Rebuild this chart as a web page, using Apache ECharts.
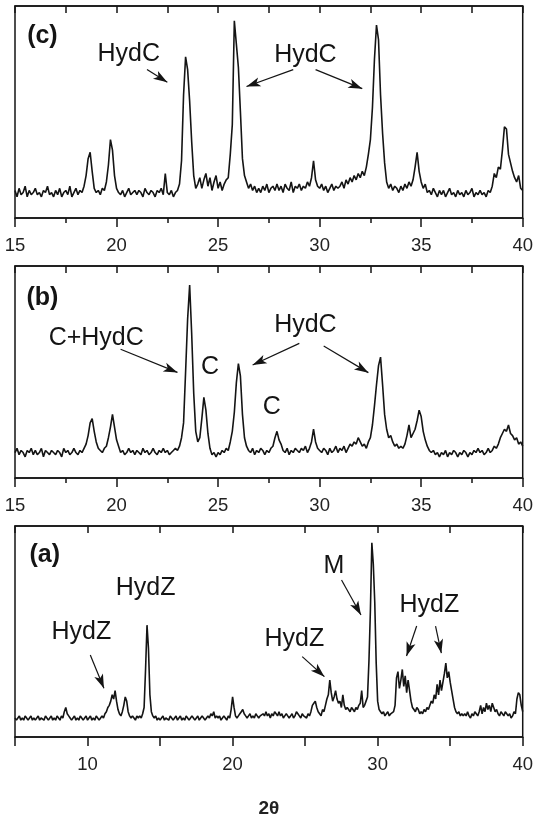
<!DOCTYPE html>
<html>
<head>
<meta charset="utf-8">
<script src="https://cdn.jsdelivr.net/npm/echarts@6/dist/echarts.min.js"></script>
<style>
html,body{margin:0;padding:0;background:#fff}
#chart{width:536px;height:819px}
</style>
</head>
<body>
<div id="chart"></div>
<script>
// ---------- DATA ----------
const scanStep = 0.1;          // 2θ step of the scans (degrees)
const startC = 15;             // first 2θ of pattern (c)
const startB = 15;             // first 2θ of pattern (b)
const startA = 5;              // first 2θ of pattern (a)

// Pattern (c): 15.0 .. 40.0
const intensityC = [
  13,10,14,11,12,15,10,13,11,12,
  14,11,12,10,13,12,15,11,12,10,
  13,11,14,10,12,13,11,15,10,12,
  14,11,13,12,15,20,28,31,22,14,
  12,13,11,14,13,17,25,37,32,20,
  14,12,11,13,10,12,14,11,12,13,
  11,13,12,10,14,12,11,13,12,10,
  13,12,14,11,21,12,11,13,10,12,
  13,16,27,58,76,70,55,36,20,14,
  16,19,14,18,21,15,19,13,17,20,
  14,17,13,16,18,19,30,44,93,82,
  71,50,28,20,17,14,16,13,15,12,
  14,12,15,13,16,12,14,15,13,16,
  13,15,12,16,14,13,17,12,15,14,
  16,13,15,14,17,15,19,27,18,15,
  14,16,13,15,12,14,16,13,15,14,
  15,17,14,18,16,19,17,20,18,21,
  19,22,20,24,30,37,52,75,91,84,
  58,40,26,17,14,16,13,15,14,12,
  15,13,16,14,17,15,18,24,31,22,
  17,14,16,12,13,11,14,12,10,13,
  11,13,10,12,14,11,12,10,13,11,
  12,10,13,11,12,14,10,12,11,13,
  11,12,10,13,12,15,21,19,24,23,
  32,43,42,30,26,22,19,17,20,14,
  13
];

// Pattern (b): 15.0 .. 40.0
const intensityB = [
  12,14,11,13,12,10,13,12,14,11,
  13,11,12,14,10,13,12,11,13,12,
  11,13,12,10,14,12,13,11,12,14,
  12,11,13,12,14,16,20,26,28,22,
  17,14,13,12,14,15,19,24,30,24,
  18,15,12,13,11,12,14,12,13,11,
  13,12,11,14,12,13,11,12,14,12,
  11,13,12,14,12,13,11,12,13,14,
  13,15,19,26,50,75,91,68,40,22,
  17,19,28,38,32,21,14,11,12,10,
  12,11,13,12,14,13,17,22,31,45,
  54,48,30,19,15,13,12,14,11,13,
  12,14,13,11,13,12,14,15,19,22,
  18,16,13,12,14,11,13,12,14,13,
  12,14,13,15,12,14,17,23,17,14,
  13,12,14,13,11,14,12,13,15,12,
  14,13,15,12,14,16,15,17,16,19,
  17,15,16,14,17,19,25,34,44,53,
  57,44,30,23,19,20,17,15,16,14,
  15,14,16,20,25,19,21,23,27,32,
  29,22,18,15,13,12,13,11,12,10,
  12,11,13,10,12,11,13,12,10,12,
  11,13,12,10,12,11,13,12,14,12,
  13,11,12,14,12,13,15,14,16,19,
  21,23,22,25,21,20,18,19,16,17,
  15
];

// Pattern (a): 5.0 .. 40.0
const intensityA = [
  9,8,9,10,8,9,8,10,9,8,
  9,10,8,9,8,9,10,8,9,9,
  8,10,9,8,9,10,8,9,8,10,
  9,8,10,9,12,14,11,10,9,8,
  9,10,8,9,8,10,9,8,9,10,
  8,9,10,8,9,8,10,9,8,9,
  10,9,11,12,14,15,17,20,18,22,
  17,13,11,10,12,15,19,17,12,10,
  9,10,9,8,10,9,10,9,11,14,
  32,53,42,20,12,10,9,10,8,9,
  8,9,10,8,9,9,8,10,9,8,
  9,10,8,9,10,8,9,8,10,9,
  8,9,10,9,8,9,10,8,9,10,
  9,8,9,10,9,11,10,12,9,10,
  9,10,8,9,10,9,8,10,9,13,
  19,14,10,9,10,11,12,13,11,10,
  9,10,11,9,10,9,11,10,9,10,
  10,11,10,12,10,11,9,11,10,12,
  11,10,12,10,11,9,10,11,10,9,
  10,11,9,10,12,11,10,9,11,10,
  10,9,11,10,12,15,16,17,14,12,
  11,10,13,12,15,18,20,27,21,17,
  19,22,18,16,17,14,20,15,13,14,
  13,12,14,13,12,14,13,15,16,22,
  14,15,17,19,36,60,92,82,64,35,
  17,13,12,11,12,10,11,12,10,11,
  11,12,15,28,31,23,27,32,24,29,
  21,27,22,17,14,13,12,14,13,11,
  12,11,13,12,14,13,15,17,16,20,
  18,25,20,27,22,26,30,35,28,31,
  26,22,18,14,12,11,12,10,11,10,
  11,10,12,10,9,11,10,12,11,10,
  12,15,11,14,12,16,13,15,12,16,
  14,12,13,11,10,12,11,10,12,11,
  10,11,9,10,12,11,18,21,20,15,
  12
];

// Axis ranges and tick labels
const rangeC = [15, 40];
const rangeB = [15, 40];
const rangeA = [5, 40];
const tickLabelsC = [15, 20, 25, 30, 35, 40];
const tickLabelsB = [15, 20, 25, 30, 35, 40];
const tickLabelsA = [10, 20, 30, 40];
const xAxisTitle = '2θ';

// Annotations (anchored in data coordinates: 2θ, intensity)
const panelTagC = {text: '(c)', x: 16.35, y: 86};
const panelTagB = {text: '(b)', x: 16.35, y: 85};
const panelTagA = {text: '(a)', x: 7.05, y: 86};

const labelsC = [
  {text: 'HydC', x: 20.6, y: 77.5},
  {text: 'HydC', x: 29.3, y: 77}
];
const arrowsC = [
  {x1: 21.5, y1: 70, x2: 22.5, y2: 64},
  {x1: 28.7, y1: 70, x2: 26.4, y2: 62},
  {x1: 29.8, y1: 70, x2: 32.1, y2: 61}
];
const labelsB = [
  {text: 'C+HydC', x: 19.0, y: 66.2},
  {text: 'C', x: 24.6, y: 52.2},
  {text: 'HydC', x: 29.3, y: 72.2},
  {text: 'C', x: 27.65, y: 33.6}
];
const arrowsB = [
  {x1: 20.2, y1: 60.7, x2: 23.0, y2: 49.8},
  {x1: 29.0, y1: 63.5, x2: 26.7, y2: 53.3},
  {x1: 30.2, y1: 62.3, x2: 32.4, y2: 49.7}
];
const labelsA = [
  {text: 'HydZ', x: 14.0, y: 70.5},
  {text: 'HydZ', x: 9.57, y: 49.9},
  {text: 'HydZ', x: 24.26, y: 46.4},
  {text: 'M', x: 26.99, y: 81.2},
  {text: 'HydZ', x: 33.56, y: 62.6}
];
const arrowsA = [
  {x1: 10.19, y1: 38.9, x2: 11.13, y2: 23.1},
  {x1: 24.8, y1: 38.1, x2: 26.33, y2: 28.6},
  {x1: 27.51, y1: 74.4, x2: 28.85, y2: 57.8},
  {x1: 32.69, y1: 52.6, x2: 31.99, y2: 38.4},
  {x1: 33.99, y1: 52.6, x2: 34.39, y2: 39.7}
];

// ---------- STYLE / LAYOUT ----------
const FONT = '"Liberation Sans", Arial, Helvetica, sans-serif';
const INK = '#141414';
const layout = [
  {top: 6, height: 212},
  {top: 266, height: 212},
  {top: 526, height: 211}
];

const panels = [
  {start: startC, values: intensityC, range: rangeC, ticks: tickLabelsC, minor: true, tag: panelTagC, labels: labelsC, arrows: arrowsC},
  {start: startB, values: intensityB, range: rangeB, ticks: tickLabelsB, minor: true, tag: panelTagB, labels: labelsB, arrows: arrowsB},
  {start: startA, values: intensityA, range: rangeA, ticks: tickLabelsA, minor: false, tag: panelTagA, labels: labelsA, arrows: arrowsA}
];

function toPairs(start, values) {
  return values.map((v, i) => [Math.round((start + i * scanStep) * 100) / 100, v]);
}

const grids = layout.map(g => ({
  left: 15, right: 13, top: g.top, height: g.height,
  show: true, borderColor: INK, borderWidth: 1.5, backgroundColor: 'transparent'
}));

const xAxes = [];
panels.forEach((p, i) => {
  const isLast = i === panels.length - 1;
  xAxes.push({
    type: 'value', gridIndex: i, position: 'bottom',
    min: p.range[0], max: p.range[1], interval: 5,
    axisLine: {show: true, onZero: false, lineStyle: {color: INK, width: 1.5}},
    axisTick: {show: true, inside: false, length: 9, lineStyle: {color: INK, width: 1.5}},
    minorTick: {show: p.minor, splitNumber: 2, length: 5, lineStyle: {color: INK, width: 1.5}},
    axisLabel: {
      show: true, margin: 18, fontSize: 18.5, color: '#222', fontFamily: FONT,
      formatter: v => (p.ticks.indexOf(v) >= 0 ? String(v) : '')
    },
    splitLine: {show: false}, minorSplitLine: {show: false},
    name: isLast ? xAxisTitle : '',
    nameLocation: 'middle', nameGap: 62,
    nameTextStyle: {fontSize: 19, fontWeight: 'bold', color: '#222', fontFamily: FONT}
  });
  xAxes.push({
    type: 'value', gridIndex: i, position: 'top',
    min: p.range[0], max: p.range[1], interval: 5,
    axisLine: {show: true, onZero: false, lineStyle: {color: INK, width: 1.5}},
    axisTick: {show: true, inside: true, length: 7, lineStyle: {color: INK, width: 1.5}},
    minorTick: {show: p.minor, splitNumber: 2, length: 7, lineStyle: {color: INK, width: 1.5}},
    axisLabel: {show: false},
    splitLine: {show: false}, minorSplitLine: {show: false}
  });
});

const yAxes = panels.map((p, i) => ({
  type: 'value', gridIndex: i, min: 0, max: 100, show: false,
  splitLine: {show: false}
}));

const series = panels.map((p, i) => {
  const markData = [{
    name: p.tag.text, coord: [p.tag.x, p.tag.y],
    label: {fontWeight: 'bold', fontSize: 25}
  }].concat(p.labels.map(l => ({name: l.text, coord: [l.x, l.y]})));
  return {
    type: 'line', xAxisIndex: 2 * i, yAxisIndex: i,
    data: toPairs(p.start, p.values),
    showSymbol: false, symbol: 'none', silent: true, z: 3,
    lineStyle: {color: INK, width: 1.6, join: 'bevel'},
    markPoint: {
      silent: true, symbol: 'circle', symbolSize: 1,
      itemStyle: {color: 'rgba(0,0,0,0)'},
      label: {show: true, position: 'inside', formatter: '{b}', color: INK, fontSize: 25, fontFamily: FONT},
      data: markData
    },
    markLine: {
      silent: true, symbol: ['none', 'arrow'], symbolSize: [7, 14],
      lineStyle: {color: INK, width: 1.2, type: 'solid'},
      label: {show: false},
      emphasis: {disabled: true},
      data: p.arrows.map(a => [{coord: [a.x1, a.y1]}, {coord: [a.x2, a.y2]}])
    }
  };
});

const chart = echarts.init(document.getElementById('chart'), null, {renderer: 'canvas'});
chart.setOption({
  animation: false,
  backgroundColor: '#ffffff',
  grid: grids,
  xAxis: xAxes,
  yAxis: yAxes,
  series: series
});
</script>
</body>
</html>
